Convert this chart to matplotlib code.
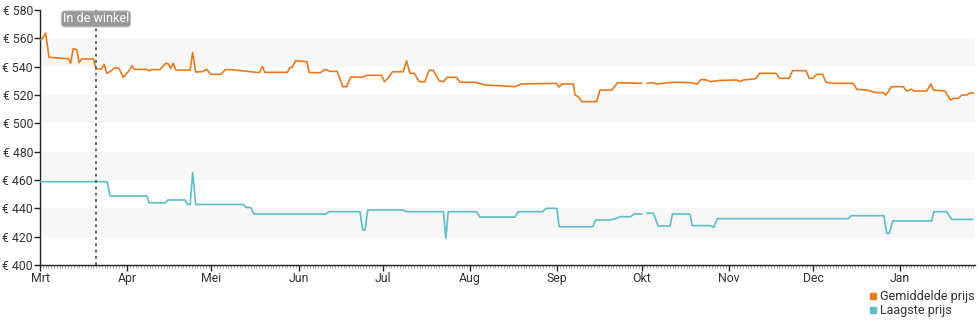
import matplotlib
matplotlib.use("Agg")
import matplotlib.pyplot as plt
import matplotlib.dates as mdates
import numpy as np
import pandas as pd

plt.rcParams["font.family"] = ["Roboto", "DejaVu Sans"]

# days since 1 March
start = pd.Timestamp("2023-03-01")
avg_days = [0, 0.6, 2.0, 3.2, 10.1, 10.9, 11.8, 13.1, 13.9, 14.8, 19.0, 19.9, 21.9, 22.8, 23.7,
            24.9, 26.7, 28.1, 29.6, 31.4, 32.8, 33.5, 38.0, 38.8, 39.7, 42.7, 44.7, 45.6, 46.5,
            47.4, 48.3, 53.4, 54.3, 55.4, 57.7, 59.3, 60.8, 64.3, 66.0, 67.6, 74.7, 78.0, 79.1,
            80.0, 88.0, 88.9, 89.7, 90.9, 94.9, 95.8, 99.8, 101.4, 103.2, 105.7, 107.7, 109.1,
            110.5, 114.8, 116.2, 121.5, 122.5, 123.9, 125.4, 129.2, 130.4, 131.6, 133.1, 134.9,
            136.9, 138.4, 139.9, 142.0, 143.5, 144.9, 148.2, 149.4, 154.7, 158.3, 164.8, 169.0,
            171.3, 183.8, 184.6, 185.6, 189.7, 190.3, 191.5, 192.7, 198.0, 199.2, 203.4, 205.5,
            214.0, 215.0, 216.0, 217.6, 219.4, 225.3, 231.2, 233.8, 235.1, 237.1, 238.3, 241.9,
            247.8, 249.0, 250.2, 253.7, 254.7, 255.9, 261.8, 263.0, 266.5, 267.7, 272.5, 273.6,
            275.0, 276.2, 278.4, 279.6, 282.2, 289.3, 290.5, 294.1, 297.6, 300.0, 300.9, 302.9,
            307.1, 308.3, 310.0, 310.9, 315.4, 316.9, 317.8, 321.9, 323.9, 324.9, 326.7, 327.9,
            329.7, 330.8, 332.0]
avg_price = [559, 559, 563.7, 546.6, 545.6, 542.4, 552.7, 552, 542.8, 545.4, 545.4, 538.4, 538.4,
             541.6, 535.3, 536.5, 539.3, 538.8, 532.5, 536.5, 540.7, 538.1, 538.1, 537, 538, 538,
             542.4, 542, 538.8, 542.4, 537.6, 537.6, 550.1, 536.2, 536.5, 538.1, 534.6, 534.6,
             537.9, 538, 536.5, 535.8, 540, 536, 536, 539.5, 539.5, 544.2, 543.5, 535.8, 535.8,
             538.1, 536.7, 536.7, 525.9, 525.9, 532.6, 532.6, 533.9, 533.9, 529.4, 532.2, 536.4,
             536.4, 544, 535.3, 535.3, 529.4, 529.4, 537.4, 537.4, 530.1, 529.4, 532.5, 532.5,
             529, 529, 527.1, 526.4, 525.9, 527.8, 528.2, 525.6, 527.8, 527.8, 520, 518.8, 515.3,
             515.3, 523.5, 523.5, 528.7, 528.2, np.nan, 528.2, 528.7, 527.8, 529, 528.7, 527.8,
             531, 530.6, 529.4, 530.3, 530.6, 529.4, 530.6, 531.3, 531.6, 535.3, 535.3, 531.8,
             531.8, 537.2, 537.2, 531.8, 531.8, 534.6, 534.6, 529, 528.2, 528.2, 524, 523.5,
             521.6, 521.6, 520, 525.9, 525.9, 522.8, 524, 522.8, 522.8, 527.8, 523.5, 522.8,
             516.5, 517.6, 517.6, 520, 520, 521.6, 521.2]

low_days = [0, 23.9, 24.9, 38.0, 38.8, 44.7, 45.4, 51.6, 52.5, 53.4, 54.3, 55.4, 72.3, 73.3,
            74.9, 76.1, 101.7, 102.8, 113.8, 114.8, 115.6, 116.6, 129.2, 130.2, 143.5, 144.4,
            145.2, 155.3, 156.5, 168.9, 170.1, 178.8, 180.0, 183.8, 184.7, 196.6, 197.7, 202.7,
            205.1, 206.3, 210.1, 211.3, 214.0, 215.0, 216.0, 218.2, 219.9, 224.1, 225.0, 231.2,
            232.0, 238.6, 239.7, 240.9, 287.5, 288.5, 300.2, 301.2, 302.1, 303.3, 317.2, 318.0,
            322.5, 324.3, 331.8]
low_price = [458.8, 458.8, 448.7, 448.7, 443.9, 443.9, 445.9, 445.9, 442.7, 442.7, 465.2, 442.7,
             442.7, 440.6, 440.6, 436, 436, 437.6, 437.6, 424.7, 424.7, 438.8, 438.8, 437.6,
             437.6, 418.8, 437.6, 437.6, 433.8, 433.8, 437.6, 437.6, 440, 440, 427, 427, 431.8,
             431.8, 432.9, 434.1, 434.1, 436, 436, np.nan, 436.5, 436.5, 427.5, 427.5, 436, 436,
             427.8, 427.8, 426.6, 432.7, 432.7, 434.8, 434.8, 422.4, 422.4, 431.1, 431.1, 437.6,
             437.6, 432.2, 432.2]

month_labels = ["Mrt", "Apr", "Mei", "Jun", "Jul", "Aug", "Sep", "Okt", "Nov", "Dec", "Jan"]
y_ticks = [400, 420, 440, 460, 480, 500, 520, 540, 560, 580]
store_day = 19.9
end_day = 332.6

avg_x = start + pd.to_timedelta(avg_days, unit="D")
low_x = start + pd.to_timedelta(low_days, unit="D")
month_x = pd.date_range(start, periods=len(month_labels), freq="MS")

fig = plt.figure(figsize=(9.8, 3.25), dpi=100)
ax = fig.add_axes([40 / 980, 1 - 265 / 325, 935 / 980, 255 / 325])

# alternating bands
for lo in [420, 460, 500, 540]:
    ax.axhspan(lo, lo + 20, color="#f7f7f7", zorder=0, lw=0)

ax.plot(avg_x, avg_price, color="#e87a1e", lw=1.2, label="Gemiddelde prijs", zorder=3)
ax.plot(low_x, low_price, color="#5dbdc8", lw=1.2, label="Laagste prijs", zorder=3)

store_x = start + pd.Timedelta(days=store_day)
ax.axvline(store_x, color="#555555", ls=(0, (1.5, 2)), lw=1.3, zorder=4)
ax.text(store_x, 0.965, "In de winkel", transform=ax.get_xaxis_transform(), ha="center",
        va="center", fontsize=9, color="white", zorder=5,
        bbox=dict(boxstyle="round,pad=0.12,rounding_size=0.3", fc="#999999", ec="#bbbbbb", lw=0.6))

ax.set_xlim(start, start + pd.Timedelta(days=end_day))
ax.set_ylim(400, 580)
ax.set_xticks(month_x)
ax.set_xticklabels(month_labels)
ax.xaxis.set_minor_locator(mdates.DayLocator())
ax.set_yticks(y_ticks)
ax.set_yticklabels([f"€ {v}" for v in y_ticks])

for s in ["top", "right"]:
    ax.spines[s].set_visible(False)
for s in ["left", "bottom"]:
    ax.spines[s].set_color("#222222")
    ax.spines[s].set_linewidth(1)
ax.tick_params(axis="both", which="major", labelsize=8.8, colors="#222222", length=4, width=1,
               pad=1, labelcolor="#333333")
ax.tick_params(axis="x", which="minor", length=2, width=0.5, colors="#888888")

fig.legend(loc="lower right", bbox_to_anchor=(1.006, -0.01), frameon=False, fontsize=9,
           handlelength=0.6, handleheight=0.6, handletextpad=0.3, labelspacing=0.05,
           labelcolor="#333333",
           handles=[plt.Line2D([], [], color="#e87a1e", marker="s", ls="", markersize=5),
                    plt.Line2D([], [], color="#5dbdc8", marker="s", ls="", markersize=5)],
           labels=["Gemiddelde prijs", "Laagste prijs"])

fig.savefig("out.png", dpi=100)
